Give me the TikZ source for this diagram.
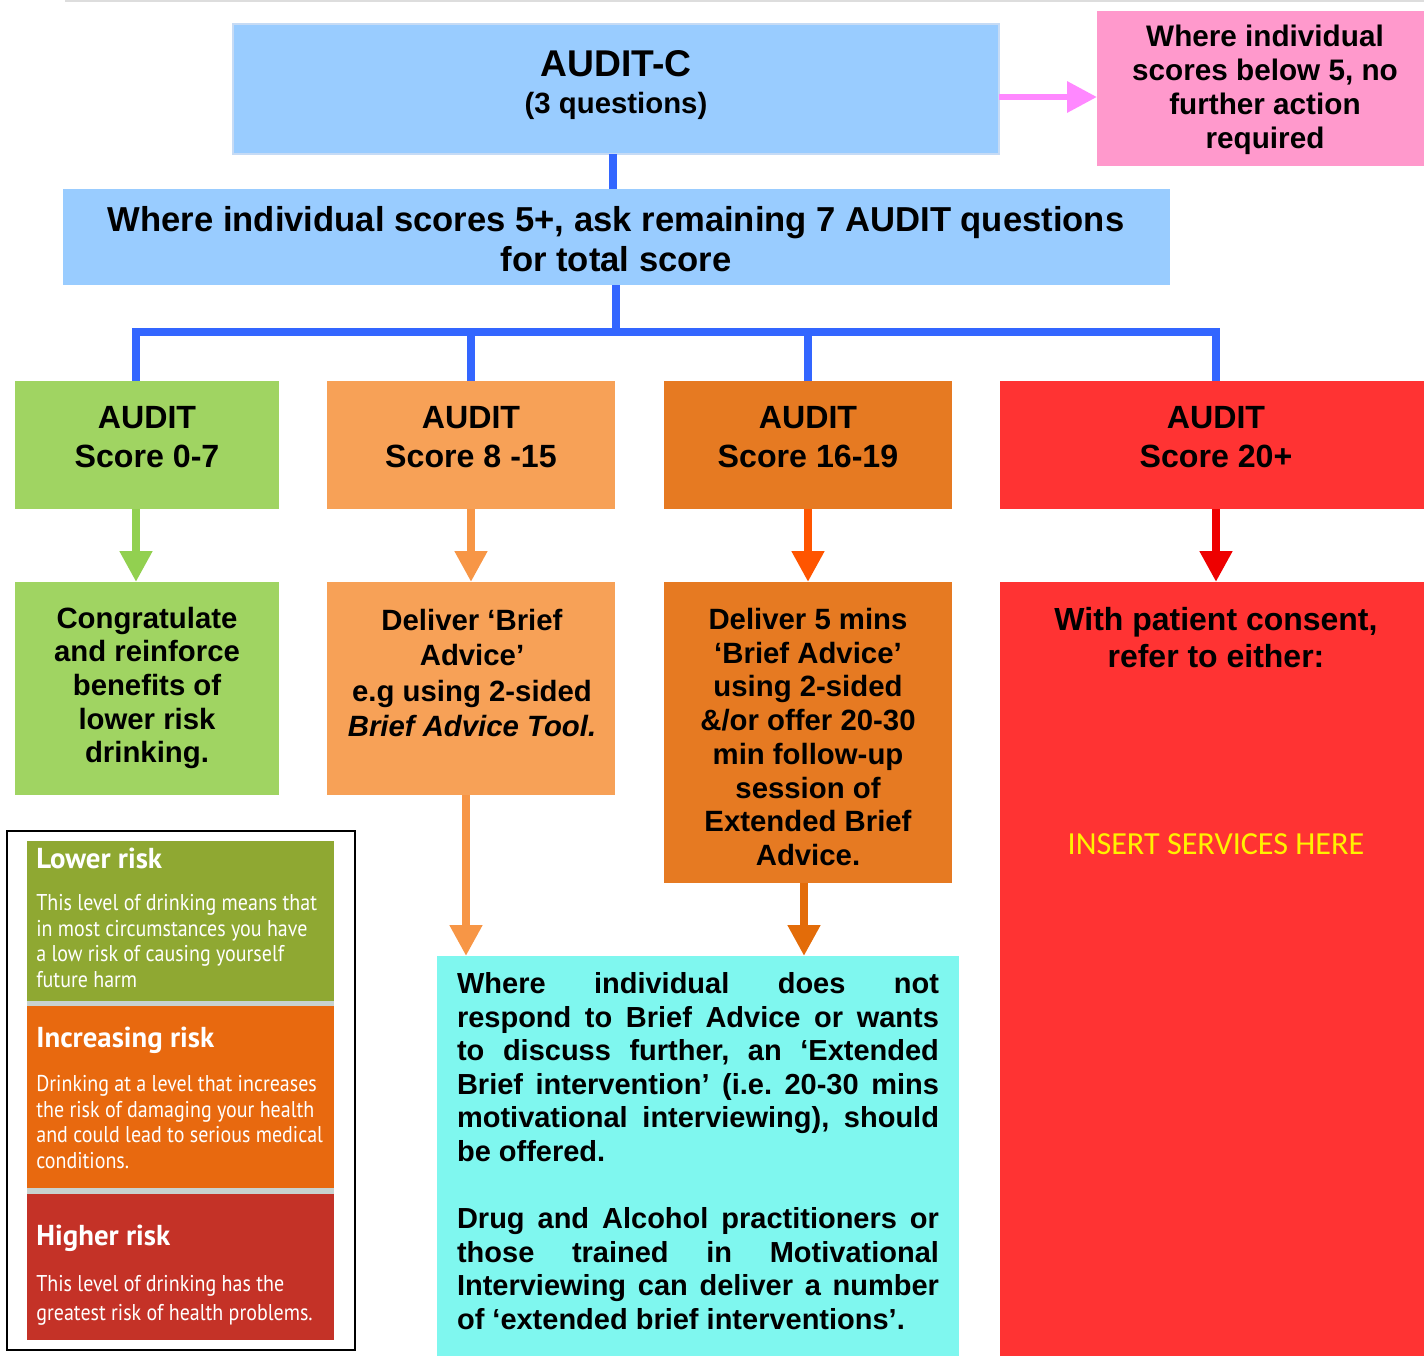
\documentclass[tikz,border=0pt]{standalone}
\usepackage{fontspec}
\setmainfont{Liberation Sans}
\newfontfamily\legfont[FakeStretch=0.875]{PT Sans}
\newfontfamily\legheadfont{PT Sans}
\newfontfamily\calfont{Carlito}
\usetikzlibrary{fit,arrows.meta}

\definecolor{auditblue}{HTML}{99CCFF}
\definecolor{auditedge}{HTML}{C6DBF5}
\definecolor{pinkbox}{HTML}{FF99CC}
\definecolor{pinkarrow}{HTML}{FF88FF}
\definecolor{linkblue}{HTML}{3366FF}
\definecolor{lowgreen}{HTML}{A0D462}
\definecolor{midorange}{HTML}{F7A157}
\definecolor{highorange}{HTML}{E67A22}
\definecolor{topred}{HTML}{FF3333}
\definecolor{greenarrow}{HTML}{92D050}
\definecolor{lorangearrow}{HTML}{F79646}
\definecolor{orangearrow}{HTML}{FF5500}
\definecolor{darkarrow}{HTML}{E36C09}
\definecolor{redarrow}{HTML}{EE0000}
\definecolor{cyanbox}{HTML}{7FF7EF}
\definecolor{leggreen}{HTML}{8FA832}
\definecolor{legorange}{HTML}{E8690F}
\definecolor{legred}{HTML}{C43227}
\definecolor{leggap}{HTML}{C8D2CF}
\definecolor{topline}{HTML}{DDDDDD}

\tikzset{
  box/.style={inner sep=0pt, outer sep=0pt},
  btext/.style={inner sep=0pt, align=center, font=\bfseries\fontsize{16.7}{19.2}\selectfont},
  auditlbl/.style={inner sep=0pt, align=center, font=\bfseries\fontsize{18.3}{22.1}\selectfont},
  downarrow/.style={line width=0.16cm, -{Triangle[width=0.62cm,length=0.62cm]}},
  bluelink/.style={line width=0.17cm, linkblue, line join=miter},
  leghead/.style={inner sep=0pt, anchor=west, text=white, font=\legheadfont\bfseries\fontsize{16.4}{18}\selectfont},
  legbody/.style={inner sep=0pt, anchor=west, align=left, text=white, font=\legfont\fontsize{13}{14.7}\selectfont},
}

\begin{document}
\begin{tikzpicture}[x=0.02cm,y=-0.02cm]
  \useasboundingbox (0,0) rectangle (1424,1356);
  \draw[topline, line width=0.04cm] (65,1) -- (1424,1);

  % top boxes
  \node[box, fill=auditblue, draw=auditedge, line width=0.04cm, fit={(233,24) (999,154)}] (auditc) {};
  \node[inner sep=0pt, align=center, font=\bfseries\fontsize{16.7}{21.5}\selectfont] (auditc-txt) at (616,85)
    {{\fontsize{21.2}{21.5}\selectfont AUDIT-C}\\(3 questions)};
  \node[box, fill=pinkbox, fit={(1097,11) (1424,166)}] (below5) {};
  \node[btext, font=\bfseries\fontsize{16.9}{19.3}\selectfont] (below5-txt) at (1265,90) {Where individual\\scores below 5, no\\further action\\required};
  \node[box, fill=auditblue, fit={(63,189) (1170,285)}] (remain) {};
  \node[inner sep=0pt, align=center, font=\bfseries\fontsize{19.7}{22.7}\selectfont] (remain-txt) at (616,239)
    {Where individual scores 5+, ask remaining 7 AUDIT questions\\for total score};

  % score boxes
  \node[box, fill=lowgreen, fit={(15,381) (279,509)}] (s07) {};
  \node[box, fill=midorange, fit={(327,381) (615,509)}] (s815) {};
  \node[box, fill=highorange, fit={(664,381) (952,509)}] (s1619) {};
  \node[box, fill=topred, fit={(1000,381) (1424,509)}] (s20) {};
  \node[auditlbl] (s07-txt) at (147,437) {AUDIT\\Score 0-7};
  \node[auditlbl] (s815-txt) at (471,437) {AUDIT\\Score 8 -15};
  \node[auditlbl] (s1619-txt) at (808,437) {AUDIT\\Score 16-19};
  \node[auditlbl] (s20-txt) at (1216,437) {AUDIT\\Score 20+};

  % advice boxes
  \node[box, fill=lowgreen, fit={(15,582) (279,795)}] (adv07) {};
  \node[box, fill=midorange, fit={(327,582) (615,795)}] (adv815) {};
  \node[box, fill=highorange, fit={(664,582) (952,883)}] (adv1619) {};
  \node[box, fill=topred, fit={(1000,582) (1424,1356)}] (adv20) {};
  \node[btext] (adv07-txt) at (147,688) {Congratulate\\and reinforce\\benefits of\\lower risk\\drinking.};
  \node[btext, font=\bfseries\fontsize{16.7}{20.2}\selectfont] (adv815-txt) at (472,673) {Deliver ‘Brief\\Advice’\\e.g using 2-sided\\\itshape Brief Advice Tool.};
  \node[btext] (adv1619-txt) at (808,737) {Deliver 5 mins\\‘Brief Advice’\\using 2-sided\\\&/or offer 20-30\\min follow-up\\session of\\Extended Brief\\Advice.};
  \node[btext, font=\bfseries\fontsize{18.2}{21}\selectfont] (adv20-txt) at (1216,638) {With patient consent,\\refer to either:};
  \node[inner sep=0pt, text=yellow, font=\calfont\fontsize{18.3}{20}\selectfont] (services) at (1216,844) {INSERT SERVICES HERE};

  % extended brief intervention
  \node[box, fill=cyanbox, fit={(437,956) (959,1356)}] (ebi) {};
  \node[inner sep=0pt, font=\bfseries\fontsize{16.5}{19.1}\selectfont] (ebi-txt) at (698,1151)
    {\parbox{9.64cm}{\frenchspacing\hbadness=10000\hfuzz=20pt\setlength{\parskip}{19.1pt}%
    Where individual does not\linebreak
    respond to Brief Advice or wants\linebreak
    to discuss further, an ‘Extended\linebreak
    Brief intervention’ (i.e. 20-30 mins\linebreak
    motivational interviewing), should\linebreak
    be offered.\par
    Drug and Alcohol practitioners or\linebreak
    those trained in Motivational\linebreak
    Interviewing can deliver a number\linebreak
    of ‘extended brief interventions’.}};

  % connectors
  \draw[pinkarrow, line width=0.13cm, -{Triangle[width=0.6cm,length=0.6cm]}] (auditc.east |- 0,97) -- (below5.west |- 0,97);
  \draw[bluelink] (auditc.south -| 613,0) -- (remain.north -| 613,0);
  \coordinate (hub) at (616,332);
  \draw[bluelink] (remain.south -| 616,0) -- (hub);
  \draw[bluelink] (s07.north -| 136,0) |- (hub) -| (s20.north -| 1216,0);
  \draw[bluelink] (s815.north) -- (s815.north |- hub);
  \draw[bluelink] (s1619.north) -- (s1619.north |- hub);

  \draw[downarrow, greenarrow] (s07.south -| 136,0) -- (adv07.north -| 136,0);
  \draw[downarrow, lorangearrow] (s815.south) -- (adv815.north);
  \draw[downarrow, orangearrow] (s1619.south) -- (adv1619.north);
  \draw[downarrow, redarrow] (s20.south -| 1216,0) -- (adv20.north -| 1216,0);
  \draw[downarrow, lorangearrow] (adv815.south -| 466,0) -- (ebi.north -| 466,0);
  \draw[downarrow, darkarrow] (adv1619.south -| 804,0) -- (ebi.north -| 804,0);

  % legend
  \node[box, draw=black, line width=0.04cm, fit={(7,831) (355,1350)}] (legend) {};
  \node[box, fill=leggap, fit={(27,841) (334,1340)}] (leg-gap) {};
  \node[box, fill=leggreen, fit={(27,841) (334,1001)}] (leg-low) {};
  \node[box, fill=legorange, fit={(27,1006) (334,1188)}] (leg-inc) {};
  \node[box, fill=legred, fit={(27,1194) (334,1340)}] (leg-high) {};
  \node[leghead] (low-head) at (36,858) {Lower risk};
  \node[legbody] (low-body) at (36,941) {This level of drinking means that\\in most circumstances you have\\a low risk of causing yourself\\future harm};
  \node[leghead] (inc-head) at (36,1040) {Increasing risk};
  \node[legbody] (inc-body) at (36,1122) {Drinking at a level that increases\\the risk of damaging your health\\and could lead to serious medical\\conditions.};
  \node[leghead] (high-head) at (36,1238) {Higher risk};
  \node[legbody] (high-body) at (36,1300) {This level of drinking has the\\[1.7pt]greatest risk of health problems.};
\end{tikzpicture}
\end{document}
